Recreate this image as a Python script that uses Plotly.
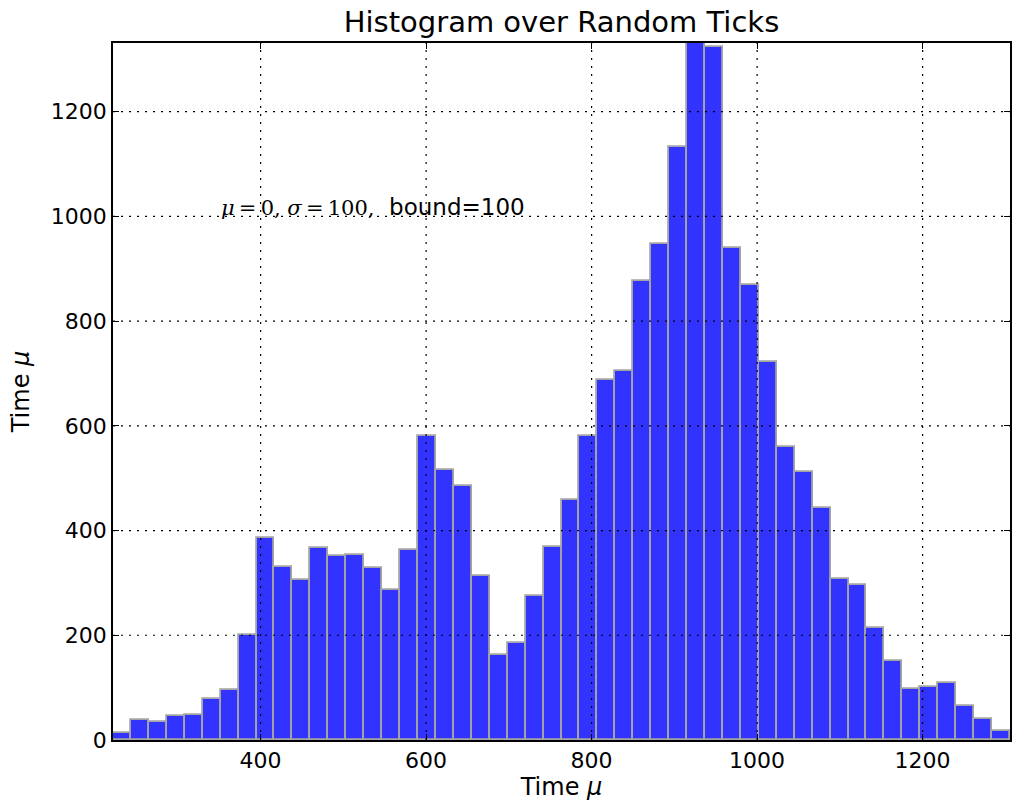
import plotly.graph_objects as go

# histogram counts, 50 equal bins
counts = [13, 38, 35, 46, 47, 78, 96, 200, 386, 331,
          305, 366, 351, 353, 328, 287, 362, 580, 516, 486,
          314, 162, 185, 275, 369, 459, 581, 687, 705, 876,
          947, 1132, 1331, 1323, 940, 868, 722, 559, 512, 443,
          308, 296, 213, 150, 98, 102, 109, 64, 41, 18]
bin_start = 221.6
bin_width = 21.68

x_ticks = [400, 600, 800, 1000, 1200]
y_ticks = [0, 200, 400, 600, 800, 1000, 1200]

title = "Histogram over Random Ticks"
note_math = "<i>μ</i>\u2009=\u20090, <i>σ</i>\u2009=\u2009100,"
note_text = "bound=100"
note_pos = (350, 1000)

centers = [bin_start + bin_width * (i + 0.5) for i in range(len(counts))]
x_end = bin_start + bin_width * len(counts)

fig = go.Figure()
fig.add_trace(go.Bar(x=centers,
                     y=counts,
                     width=bin_width,
                     marker=dict(color='rgb(51,51,255)',
                                 line=dict(color='#a4a4a4', width=1.8)),
                     showlegend=False))

# matplotlib draws the dotted grid on top of the bars
for t in x_ticks:
    fig.add_shape(type='line', xref='x', yref='paper', x0=t, x1=t, y0=0, y1=1,
                  line=dict(color='black', width=1.2, dash='2px,6px'), layer='above')
for t in y_ticks[1:]:
    fig.add_shape(type='line', xref='paper', yref='y', x0=0, x1=1, y0=t, y1=t,
                  line=dict(color='black', width=1.2, dash='2px,6px'), layer='above')

fig.add_annotation(x=note_pos[0], y=note_pos[1], xref='x', yref='y',
                   xanchor='left', yanchor='bottom', yshift=-6, showarrow=False,
                   text='<span style="font-family:DejaVu Serif;font-size:21px">' + note_math +
                        '</span>  ' + note_text,
                   font=dict(family='DejaVu Sans', size=23, color='black'))

axis_style = dict(showline=True, linecolor='black', linewidth=1.5, mirror='ticks',
                  ticks='inside', ticklen=6, tickwidth=1.2, tickcolor='black',
                  showgrid=False, zeroline=False, layer='above traces',
                  tickfont=dict(family='DejaVu Sans', size=22, color='black'))

fig.update_xaxes(range=[bin_start, x_end], tickvals=x_ticks,
                 title=dict(text='Time <i>μ</i>', standoff=4,
                            font=dict(family='DejaVu Sans', size=24, color='black')),
                 **axis_style)
fig.update_yaxes(range=[0, max(counts)], tickvals=y_ticks,
                 title=dict(text='Time <i>μ</i>', standoff=14,
                            font=dict(family='DejaVu Sans', size=24, color='black')),
                 **axis_style)

fig.update_layout(width=1024, height=811,
                  margin=dict(l=113, r=12, t=43, b=71),
                  paper_bgcolor='white', plot_bgcolor='white',
                  bargap=0,
                  title=dict(text=title, xref='paper', x=0.5, xanchor='center',
                             y=0.973, yanchor='middle',
                             font=dict(family='DejaVu Sans', size=29, color='black')))

fig.write_html("out.html", config={'displayModeBar': False},
               post_script="document.body.style.margin='0';")
